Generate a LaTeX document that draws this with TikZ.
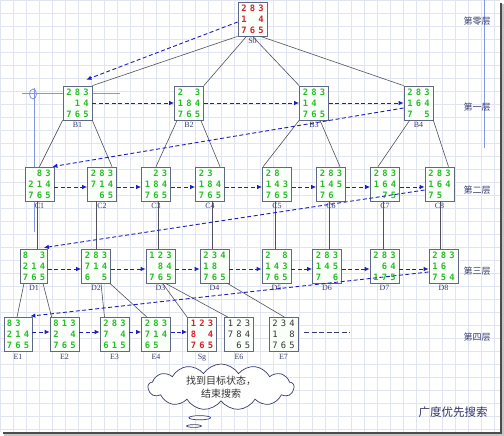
\documentclass[tikz,border=0pt]{standalone}
\usepackage{fontspec}
\newfontfamily\cjk{Noto Sans CJK SC}
\newfontfamily\digf{DejaVu Sans Mono}
\newfontfamily\lblf{Liberation Serif}
\usetikzlibrary{arrows.meta,shapes.callouts,shapes.symbols}
\definecolor{gridc}{RGB}{224,229,241}
\definecolor{boxc}{RGB}{95,105,135}
\definecolor{boxfill}{RGB}{250,255,250}
\definecolor{grn}{RGB}{40,190,40}
\definecolor{rd}{RGB}{220,30,45}
\definecolor{dash}{RGB}{30,30,190}
\definecolor{tree}{RGB}{80,80,95}
\definecolor{lblc}{RGB}{55,60,110}
\definecolor{axis}{RGB}{130,150,225}
\newcommand\brw[3]{\makebox[8.5pt]{#1}\makebox[8.5pt]{#2}\makebox[8.5pt]{#3}}
\newcommand\bd[9]{\brw{#1}{#2}{#3}\\\brw{#4}{#5}{#6}\\\brw{#7}{#8}{#9}}
\begin{document}
\begin{tikzpicture}[x=1pt,y=-1pt,
  board/.style={draw=boxc, fill=boxfill, line width=0.7pt, minimum width=29pt, minimum height=34pt,
    inner sep=0pt, align=center, text=grn,
    font=\digf\bfseries\fontsize{8.8}{11}\selectfont,
    label={[lbl]below:#1}},
  lbl/.style={font=\lblf\fontsize{8}{8}\selectfont, text=lblc, inner sep=0.5pt, label distance=1.5pt},
  treeline/.style={draw=tree, line width=0.6pt},
  bfs/.style={draw=dash, dashed, dash pattern=on 4pt off 2.5pt, line width=0.9pt, -{Latex[length=5pt,width=4.5pt]}},
  lvl/.style={font=\cjk\fontsize{9}{10}\selectfont, text=lblc}
]
\useasboundingbox (0,0) rectangle (504,436);
\fill[white] (0,0) rectangle (504,436);
\draw[gridc, line width=0.45pt, xstep=13pt, ystep=13pt] (0,0) grid (500,432);
\fill[gray!45] (500,4) rectangle (504,436);
\fill[gray!45] (4,432) rectangle (504,436);
\draw[black!70, line width=1.6pt] (501,3) -- (501,433) -- (3,433);

% axis decoration lines
\draw[axis, line width=1pt] (484,0) -- (484,148);
\draw[axis, line width=1pt] (22,94) -- (120,94);
\draw[axis, line width=1pt] (34,88) -- (34,232);
\draw[axis, line width=0.8pt] (33,94) ellipse (3.5pt and 5pt);

% level 0
\node[board=S0, text=rd] (S0) at (252.5,19) {\bd{2}{8}{3}{1}{}{4}{7}{6}{5}};
% level 1
\node[board=B1] (B1) at (77.5,103) {\bd{2}{8}{3}{}{1}{4}{7}{6}{5}};
\node[board=B2] (B2) at (189,103) {\bd{2}{}{3}{1}{8}{4}{7}{6}{5}};
\node[board=B3] (B3) at (314,103) {\bd{2}{8}{3}{1}{4}{}{7}{6}{5}};
\node[board=B4] (B4) at (418.5,103) {\bd{2}{8}{3}{1}{6}{4}{7}{}{5}};
% level 2
\node[board=C1] (C1) at (39.5,184) {\bd{}{8}{3}{2}{1}{4}{7}{6}{5}};
\node[board=C2] (C2) at (102,184) {\bd{2}{8}{3}{7}{1}{4}{}{6}{5}};
\node[board=C3] (C3) at (156,184) {\bd{}{2}{3}{1}{8}{4}{7}{6}{5}};
\node[board=C4] (C4) at (210,184) {\bd{2}{3}{}{1}{8}{4}{7}{6}{5}};
\node[board=C5] (C5) at (277,184) {\bd{2}{8}{}{1}{4}{3}{7}{6}{5}};
\node[board=C6] (C6) at (331,184) {\bd{2}{8}{3}{1}{4}{5}{7}{6}{}};
\node[board=C7] (C7) at (385,184) {\bd{2}{8}{3}{1}{6}{4}{}{7}{5}};
\node[board=C8] (C8) at (439.5,184) {\bd{2}{8}{3}{1}{6}{4}{7}{5}{}};
% level 3
\node[board=D1, minimum width=27pt] (D1) at (34,266) {\bd{8}{}{3}{2}{1}{4}{7}{6}{5}};
\node[board=D2] (D2) at (96,266) {\bd{2}{8}{3}{7}{1}{4}{6}{}{5}};
\node[board=D3] (D3) at (160.5,266) {\bd{1}{2}{3}{}{8}{4}{7}{6}{5}};
\node[board=D4] (D4) at (214.5,266) {\bd{2}{3}{4}{1}{8}{}{7}{6}{5}};
\node[board=D5] (D5) at (276.5,266) {\bd{2}{}{8}{1}{4}{3}{7}{6}{5}};
\node[board=D6] (D6) at (327,266) {\bd{2}{8}{3}{1}{4}{5}{7}{}{6}};
\node[board=D7] (D7) at (384.5,266) {\bd{2}{8}{3}{}{6}{4}{1}{7}{5}};
\node[board=D8] (D8) at (443.5,266) {\bd{2}{8}{3}{1}{6}{}{7}{5}{4}};
% level 4
\node[board=E1, minimum width=28pt] (E1) at (18,334.5) {\bd{8}{3}{}{2}{1}{4}{7}{6}{5}};
\node[board=E2] (E2) at (64.5,334.5) {\bd{8}{1}{3}{2}{}{4}{7}{6}{5}};
\node[board=E3] (E3) at (114.5,334.5) {\bd{2}{8}{3}{7}{}{4}{6}{1}{5}};
\node[board=E4] (E4) at (156,334.5) {\bd{2}{8}{3}{7}{1}{4}{6}{5}{}};
\node[board=Sg, text=rd] (Sg) at (202,334.5) {\bd{1}{2}{3}{8}{}{4}{7}{6}{5}};
\node[board=E6, text=black!80, font=\digf\fontsize{8.8}{11}\selectfont] (E6) at (239,334.5) {\bd{1}{2}{3}{7}{8}{4}{}{6}{5}};
\node[board=E7, text=black!80, font=\digf\fontsize{8.8}{11}\selectfont] (E7) at (283.5,334.5) {\bd{2}{3}{4}{1}{}{8}{7}{6}{5}};

% tree edges
\draw[treeline] (S0.south west) -- (B1.north east);
\draw[treeline] ([xshift=-6pt]S0.south) -- (B2.north east);
\draw[treeline] (S0.south) -- (B3.north west);
\draw[treeline] ([xshift=8pt]S0.south) -- (B4.north west);
\draw[treeline] (B1.south west) -- (C1.north);
\draw[treeline] (B1.south east) -- ([xshift=10pt]C2.north);
\draw[treeline] ([xshift=3pt]B2.south west) -- (C3.north);
\draw[treeline] ([xshift=-3pt]B2.south east) -- ([xshift=10pt]C4.north);
\draw[treeline] (B3.south west) -- ([xshift=1pt]C5.north west);
\draw[treeline] ([xshift=6pt]B3.south) -- ([xshift=9pt]C6.north);
\draw[treeline] ([xshift=6pt]B4.south west) -- ([xshift=-7pt]C7.north);
\draw[treeline] (B4.south east) -- ([xshift=9pt]C8.north);
\draw[treeline] ([xshift=-2.5pt]C1.south) -- ([xshift=-2.5pt]C1.south |- D1.north);
\draw[treeline] ([xshift=-5.5pt]C2.south) -- ([xshift=-5.5pt]C2.south |- D2.north);
\draw[treeline] ([xshift=2pt]C3.south) -- ([xshift=2pt]C3.south |- D3.north);
\draw[treeline] ([xshift=2pt]C4.south) -- ([xshift=2pt]C4.south |- D4.north);
\draw[treeline] ([xshift=-2pt]C5.south) -- ([xshift=-2pt]C5.south |- D5.north);
\draw[treeline] ([xshift=-2pt]C6.south) -- ([xshift=-2pt]C6.south |- D6.north);
\draw[treeline] ([xshift=-2pt]C7.south) -- ([xshift=-2pt]C7.south |- D7.north);
\draw[treeline] ([xshift=1pt]C8.south) -- ([xshift=1pt]C8.south |- D8.north);
\draw[treeline] ([xshift=-10pt]D1.south) -- ([xshift=-1pt]E1.north);
\draw[treeline] ([xshift=9pt]D1.south) -- ([xshift=2pt]E2.north west);
\draw[treeline] ([xshift=5pt]D2.south) -- ([xshift=-10pt]E3.north);
\draw[treeline] ([xshift=-1pt]D2.south east) -- ([xshift=-9pt]E4.north);
\draw[treeline] ([xshift=2pt]D3.south) -- (Sg.north west);
\draw[treeline] ([xshift=5pt]D3.south) -- ([xshift=-11pt]E6.north);
\draw[treeline] ([xshift=-2pt]D4.south east) -- ([xshift=1pt]E7.north);

% BFS order arrows
\draw[bfs] ([yshift=-3pt]S0.west) -- ([xshift=-6pt,yshift=6pt]B1.north east);
\draw[bfs] (B1.east) -- (B2.west);
\draw[bfs] (B2.east) -- (B3.west);
\draw[bfs] (B3.east) -- (B4.west);
\draw[bfs] ([yshift=-5pt]B4.west) -- ([xshift=-2pt]C1.north east);
\foreach \a/\b in {C1/C2,C2/C3,C3/C4,C4/C5,C5/C6,C6/C7,C7/C8}
  \draw[bfs] ([yshift=-3pt]\a.east) -- ([yshift=-3pt]\b.west);
\draw[bfs] ([yshift=-6pt]C8.west) -- ([xshift=-4pt,yshift=1pt]D1.north east);
\foreach \a/\b in {D1/D2,D2/D3,D3/D4,D4/D5,D5/D6,D6/D7,D7/D8}
  \draw[bfs] ([yshift=-3pt]\a.east) -- ([yshift=-3pt]\b.west);
\draw[bfs] ([yshift=-6pt]D8.west) -- ([xshift=-2pt,yshift=1pt]E1.north east);
\foreach \a/\b in {E1/E2,E2/E3,E3/E4,E4/Sg}
  \draw[bfs] ([yshift=2.5pt]\a.east) -- ([yshift=2.5pt]\b.west);
\coordinate (m1) at (304,332);
\coordinate (m2) at (350,332);
\draw[draw=lblc, dashed, dash pattern=on 5pt off 2.5pt, line width=0.8pt] (m1) -- (m2);

% level labels
\node[lvl] (L0) at (477,21) {第零层};
\node[lvl] (L1) at (477,107) {第一层};
\node[lvl] (L2) at (477,190) {第二层};
\node[lvl] (L3) at (477,271) {第三层};
\node[lvl] (L4) at (477,337) {第四层};

% cloud
\node[cloud callout, draw=lblc, line width=0.7pt, fill=white, cloud puffs=13, cloud puff arc=115,
  cloud ignores aspect, minimum width=146pt, minimum height=46pt, inner sep=0pt,
  callout absolute pointer={(194,426)}, align=center,
  font=\cjk\fontsize{10}{13}\selectfont, text=black!80] (cl) at (221,387) {找到目标状态，\\结束搜索};

\node[font=\cjk\fontsize{11.5}{13}\selectfont, text=black!65!blue!60!gray] (title) at (453,412) {广度优先搜索};
\end{tikzpicture}
\end{document}
